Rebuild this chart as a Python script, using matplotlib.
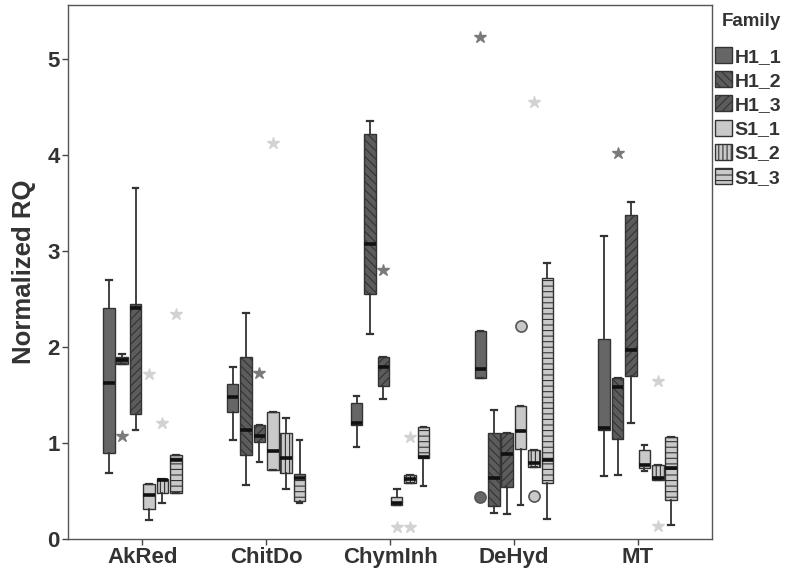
import matplotlib
matplotlib.use("Agg")
import matplotlib.pyplot as plt
import numpy as np
from matplotlib.patches import Patch

plt.rcParams['font.family'] = ['Liberation Sans', 'DejaVu Sans']
plt.rcParams['font.weight'] = 'bold'
plt.rcParams['hatch.linewidth'] = 0.8

genes = ["AkRed", "ChitDo", "ChymInh", "DeHyd", "MT"]
families = ["H1_1", "H1_2", "H1_3", "S1_1", "S1_2", "S1_3"]

# one row per family, one value per gene
whislo = [
    [0.69, 1.03, 0.96, 1.68, 0.655],
    [1.82, 0.56, 2.13, 0.27, 0.665],
    [1.13, 0.80, 1.46, 0.26, 1.21],
    [0.20, 0.72, 0.35, 0.35, 0.71],
    [0.37, 0.52, 0.58, 0.75, 0.61],
    [0.475, 0.38, 0.55, 0.21, 0.145],
]
q1 = [
    [0.90, 1.32, 1.19, 1.68, 1.13],
    [1.82, 0.87, 2.55, 0.34, 1.04],
    [1.30, 1.01, 1.59, 0.54, 1.70],
    [0.315, 0.72, 0.35, 0.94, 0.74],
    [0.475, 0.69, 0.58, 0.75, 0.61],
    [0.475, 0.40, 0.845, 0.585, 0.41],
]
med = [
    [1.62, 1.48, 1.21, 1.77, 1.16],
    [1.86, 1.14, 3.07, 0.64, 1.58],
    [2.41, 1.07, 1.79, 0.89, 1.965],
    [0.46, 0.92, 0.38, 1.12, 0.77],
    [0.61, 0.84, 0.62, 0.79, 0.63],
    [0.82, 0.63, 0.85, 0.82, 0.735],
]
q3 = [
    [2.40, 1.61, 1.42, 2.17, 2.08],
    [1.89, 1.89, 4.22, 1.105, 1.68],
    [2.45, 1.19, 1.90, 1.10, 3.375],
    [0.575, 1.32, 0.44, 1.39, 0.925],
    [0.62, 1.10, 0.665, 0.93, 0.77],
    [0.87, 0.68, 1.17, 2.72, 1.06],
]
whishi = [
    [2.70, 1.79, 1.49, 2.17, 3.15],
    [1.93, 2.35, 4.35, 1.34, 1.68],
    [3.65, 1.19, 1.90, 1.10, 3.51],
    [0.575, 1.32, 0.52, 1.39, 0.98],
    [0.62, 1.26, 0.665, 0.93, 0.77],
    [0.87, 1.03, 1.17, 2.87, 1.06],
]
# extreme values (stars) and outliers (circles): (gene index, value)
stars = {
    "H1_1": [(3, 5.23)],
    "H1_2": [(0, 1.07), (4, 4.02)],
    "H1_3": [(1, 1.73), (2, 2.80)],
    "S1_1": [(0, 1.72), (1, 4.12), (2, 0.12)],
    "S1_2": [(0, 1.21), (2, 0.12), (2, 1.06), (3, 4.55), (4, 1.645), (4, 0.135)],
    "S1_3": [(0, 2.34)],
}
circles = {
    "H1_1": [(3, 0.44)],
    "S1_1": [(3, 2.22)],
    "S1_2": [(3, 0.45)],
}

fills = ["#666666", "#5c5c5c", "#5c5c5c", "#c9c9c9", "#c9c9c9", "#c9c9c9"]
hatches = [None, "\\\\\\\\", "////", None, "||||", "---"]
star_colors = ["#7a7a7a"] * 3 + ["#d2d2d2"] * 3

fig = plt.figure(figsize=(7.87, 5.84), dpi=100)
ax = fig.add_axes([68 / 787, 45 / 584, 644 / 787, 534 / 584])

step = 0.108
width = 0.093
for i, fam in enumerate(families):
    off = (i - 2.5) * step
    pos = np.arange(len(genes)) + off
    stats = []
    for j in range(len(genes)):
        stats.append(dict(whislo=whislo[i][j], q1=q1[i][j], med=med[i][j],
                          q3=q3[i][j], whishi=whishi[i][j], fliers=[]))
    bp = ax.bxp(stats, positions=pos, widths=width, patch_artist=True,
                showfliers=False, capwidths=width * 0.5,
                boxprops=dict(facecolor=fills[i], edgecolor="#333333", linewidth=1.0),
                medianprops=dict(color="#111111", linewidth=2.6),
                whiskerprops=dict(color="#333333", linewidth=1.3),
                capprops=dict(color="#333333", linewidth=1.6))
    for b in bp["boxes"]:
        if hatches[i]:
            b.set_hatch(hatches[i])
    for g, v in stars.get(fam, []):
        ax.plot(g + off, v, marker="*", ms=9, color=star_colors[i],
                markeredgecolor=star_colors[i], linestyle="none")
    for g, v in circles.get(fam, []):
        ax.plot(g + off, v, marker="o", ms=8, markerfacecolor=fills[i],
                markeredgecolor="#555555", markeredgewidth=1.2, linestyle="none")

ax.set_xlim(-0.6, 4.6)
ax.set_ylim(0, 5.56)
ax.set_xticks(np.arange(len(genes)))
ax.set_xticklabels(genes, fontsize=16, fontweight="bold", color="#333333")
ax.set_yticks([0, 1, 2, 3, 4, 5])
ax.set_yticklabels(["0", "1", "2", "3", "4", "5"], fontsize=16, fontweight="bold", color="#333333")
ax.set_ylabel("Normalized RQ", fontsize=18.5, fontweight="bold", color="#333333", labelpad=8)
ax.tick_params(axis="both", length=4, width=1, color="#444444", pad=2)
for s in ax.spines.values():
    s.set_color("#555555")
    s.set_linewidth(1.0)

handles = [Patch(facecolor=fills[i], edgecolor="#333333", hatch=hatches[i], label=families[i])
           for i in range(len(families))]
fig.text(751 / 787, 1 - 21 / 584, "Family", ha="center", va="center",
         fontsize=13.5, fontweight="bold", color="#333333")
leg = fig.legend(handles=handles, loc="upper left",
                 bbox_to_anchor=(711 / 787, 1 - 43 / 584), frameon=False,
                 prop=dict(size=14, weight="bold"), handlelength=0.9, handleheight=0.9,
                 handletextpad=0.1, labelspacing=0.28, borderaxespad=0, borderpad=0.2)
for t in leg.get_texts():
    t.set_color("#333333")

fig.savefig("out.png", dpi=100)
